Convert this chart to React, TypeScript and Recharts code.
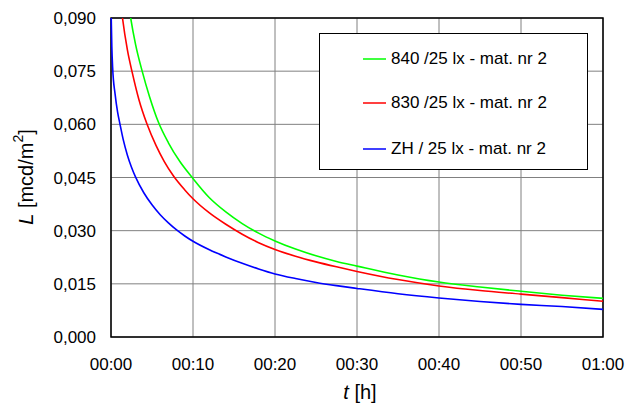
import React from 'react';
import {
  LineChart,
  Line,
  XAxis,
  YAxis,
  CartesianGrid,
  Legend,
  Label,
  ReferenceArea
} from 'recharts';

const FONT = '"Liberation Sans", Arial, sans-serif';

// minutes since start
const timeTicks = [0, 10, 20, 30, 40, 50, 60];
const lumTicks = [0, 0.015, 0.03, 0.045, 0.06, 0.075, 0.09];

// 840 /25 lx
const greenTimes = [1.9, 2.4, 3, 3.8, 4.7, 5.8, 7, 8.4, 9.9, 12, 14, 16, 18, 20, 22.5, 25, 27.5, 30, 35, 40, 45, 50, 55, 60];
const greenValues = [0.098, 0.09, 0.0825, 0.075, 0.0678, 0.0605, 0.0548, 0.0495, 0.045, 0.0393, 0.0353, 0.032, 0.0293, 0.0271, 0.0248, 0.0229, 0.0213, 0.02, 0.0175, 0.0155, 0.0141, 0.0129, 0.0118, 0.0109];

// 830 /25 lx
const redTimes = [1.0, 1.4, 2, 2.6, 3.4, 4.4, 5.5, 6.5, 7.6, 9, 10, 12, 14, 16, 18, 20, 22.5, 25, 27.5, 30, 35, 40, 45, 50, 55, 60];
const redValues = [0.098, 0.09, 0.081, 0.0745, 0.067, 0.06, 0.054, 0.0495, 0.0455, 0.0415, 0.039, 0.035, 0.0318, 0.029, 0.0266, 0.0247, 0.0228, 0.0212, 0.0198, 0.0185, 0.0162, 0.0144, 0.0131, 0.0121, 0.0111, 0.0101];

// ZH / 25 lx
const blueTimes = [0, 0.1, 0.2, 0.5, 0.8, 1.1, 1.5, 2, 2.5, 3, 4, 5, 6, 7, 8, 9, 10, 12, 14, 16, 18, 20, 22.5, 25, 27.5, 30, 35, 40, 45, 50, 55, 60];
const blueValues = [0.093, 0.082, 0.076, 0.0685, 0.0635, 0.06, 0.0556, 0.0513, 0.0479, 0.0451, 0.0407, 0.0373, 0.0345, 0.0322, 0.0302, 0.0285, 0.027, 0.0246, 0.0226, 0.0208, 0.0192, 0.0178, 0.0165, 0.0154, 0.0145, 0.0137, 0.0122, 0.011, 0.01, 0.0092, 0.0086, 0.0078];

const toSeries = (times: number[], values: number[]) =>
  times.map((t, i) => ({ t, L: values[i] }));

const series = [
  { name: '840 /25 lx - mat. nr 2', color: '#00ff00', data: toSeries(greenTimes, greenValues) },
  { name: '830 /25 lx - mat. nr 2', color: '#ff0000', data: toSeries(redTimes, redValues) },
  { name: 'ZH / 25 lx - mat. nr 2', color: '#0000ff', data: toSeries(blueTimes, blueValues) }
];

const fmtTime = (m: number) => {
  const h = Math.floor(m / 60);
  const mm = m % 60;
  return `${String(h).padStart(2, '0')}:${String(mm).padStart(2, '0')}`;
};

const fmtLum = (v: number) => v.toFixed(3).replace('.', ',');

const legendRows = [25, 69, 115];

const LegendBox = () => (
  <div
    style={{
      width: 269,
      height: 137,
      border: '1px solid #000',
      boxSizing: 'border-box',
      background: '#fff',
      position: 'relative',
      fontFamily: FONT,
      fontSize: 17,
      color: '#000'
    }}
  >
    {series.map((s, i) => (
      <div
        key={s.name}
        style={{
          position: 'absolute',
          left: 43,
          top: legendRows[i] - 11,
          height: 22,
          display: 'flex',
          alignItems: 'center',
          whiteSpace: 'nowrap'
        }}
      >
        <svg width={23} height={4} style={{ marginRight: 5 }}>
          <line x1={0} y1={2} x2={23} y2={2} stroke={s.color} strokeWidth={1.5} />
        </svg>
        <span>{s.name}</span>
      </div>
    ))}
  </div>
);

const YTitle = () => (
  <text
    x={26}
    y={177}
    transform="rotate(-90 26 177)"
    textAnchor="middle"
    dominantBaseline="central"
    fontFamily={FONT}
    fontSize={20}
    fill="#000"
  >
    <tspan fontStyle="italic">L</tspan>
    <tspan> [mcd/m</tspan>
    <tspan dy={-8} fontSize={14}>2</tspan>
    <tspan dy={8}>]</tspan>
  </text>
);

const XTitle = () => (
  <text x={360} y={399} textAnchor="middle" fontFamily={FONT} fontSize={20} fill="#000">
    <tspan fontStyle="italic">t</tspan>
    <tspan> [h]</tspan>
  </text>
);

const tickStyle = { fill: '#000', fontSize: 17, fontFamily: FONT };

export default function App() {
  return (
    <div style={{ position: 'absolute', left: 0, top: 0, background: '#fff' }}>
      <LineChart width={632} height={407} margin={{ top: 18, right: 29, bottom: 30, left: 11 }}>
        <CartesianGrid stroke="#808080" strokeWidth={1} />
        <XAxis
          dataKey="t"
          type="number"
          domain={[0, 60]}
          ticks={timeTicks}
          tickFormatter={fmtTime}
          allowDuplicatedCategory={false}
          axisLine={false}
          tickLine={false}
          tickSize={0}
          tickMargin={21}
          height={40}
          tick={tickStyle}
          interval={0}
        >
          <Label content={() => <XTitle />} />
        </XAxis>
        <YAxis
          type="number"
          domain={[0, 0.09]}
          ticks={lumTicks}
          tickFormatter={fmtLum}
          allowDataOverflow
          axisLine={false}
          tickLine={false}
          tickSize={0}
          tickMargin={15}
          width={100}
          tick={tickStyle}
          interval={0}
        >
          <Label content={() => <YTitle />} />
        </YAxis>
        {series.map((s) => (
          <Line
            key={s.name}
            data={s.data}
            dataKey="L"
            name={s.name}
            type="monotone"
            stroke={s.color}
            strokeWidth={1.6}
            dot={false}
            activeDot={false}
            isAnimationActive={false}
          />
        ))}
        <ReferenceArea x1={0} x2={60} y1={0} y2={0.09} fill="none" stroke="#000" strokeWidth={1.5} />
        <Legend
          layout="horizontal"
          verticalAlign="middle"
          align="center"
          wrapperStyle={{ left: 319, top: 33, width: 269, height: 137 }}
          content={() => <LegendBox />}
        />
      </LineChart>
    </div>
  );
}
